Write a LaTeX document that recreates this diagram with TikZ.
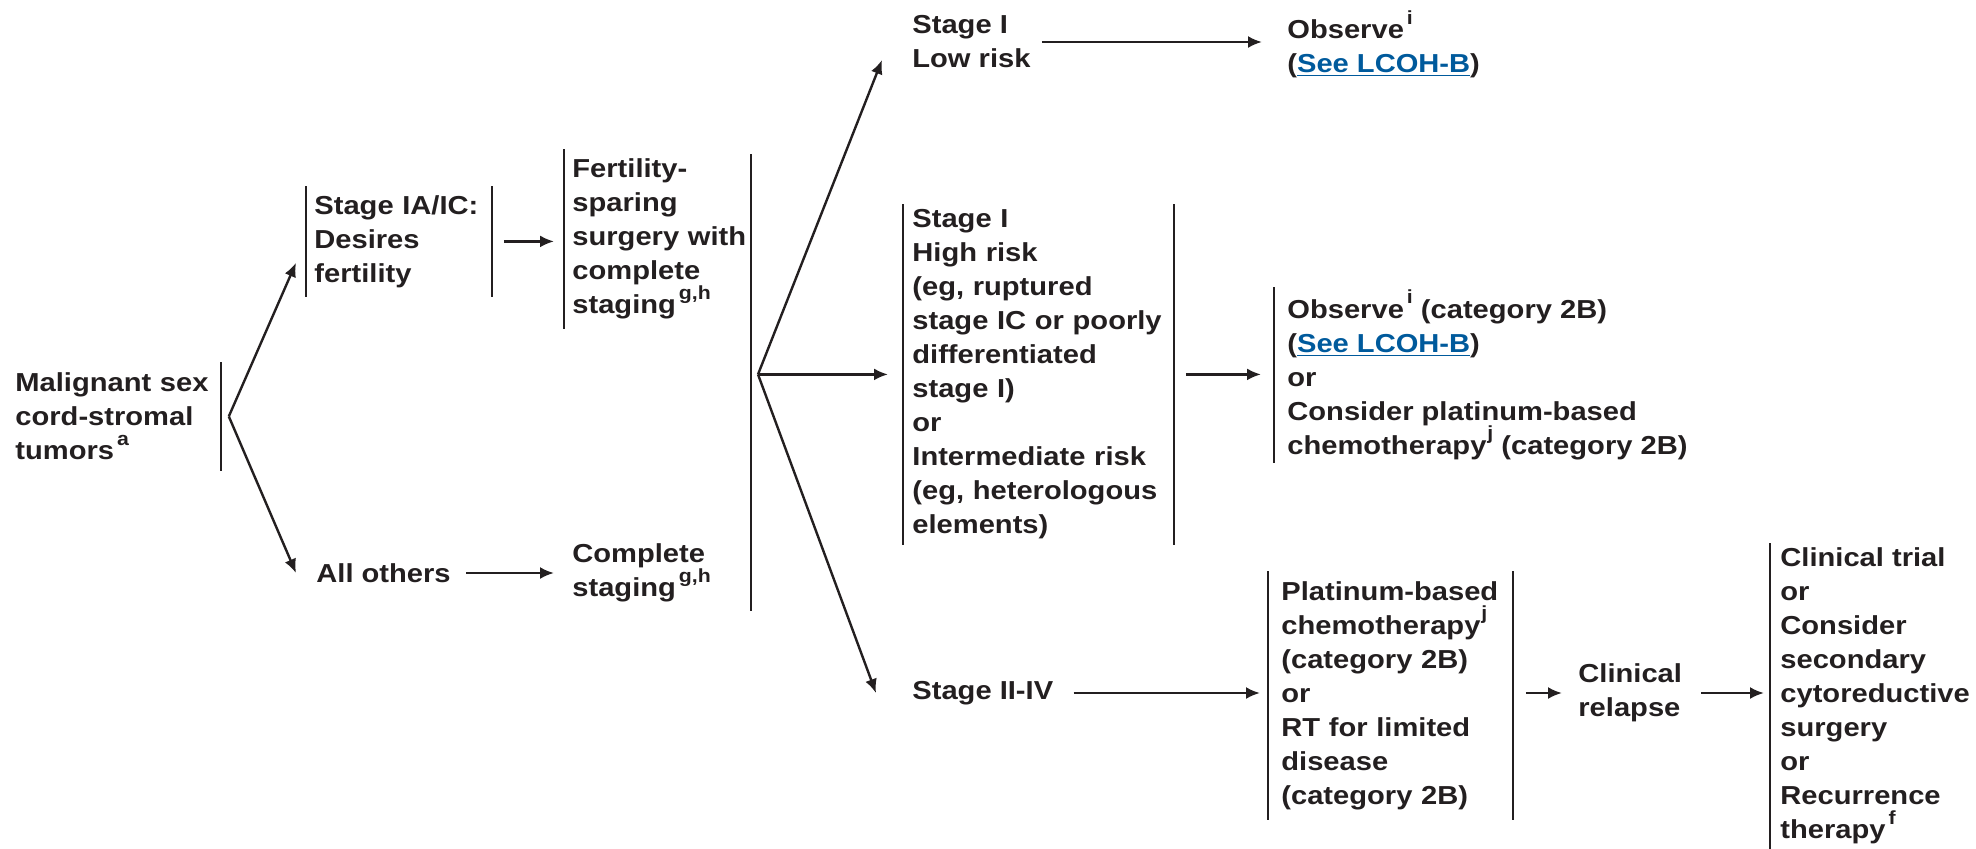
\documentclass[tikz,border=0pt]{standalone}
\usepackage{fontspec}
\usetikzlibrary{arrows.meta,calc}
\newfontfamily\ff[FakeStretch=1.12]{Liberation Sans}
\definecolor{ink}{RGB}{35,31,32}
\definecolor{linkblue}{RGB}{0,90,156}
\newcommand\fn[1]{\kern1.5pt\raisebox{0.55em}{\fontsize{9.5pt}{9.5pt}\selectfont #1}}
\newcommand\fnj[1]{\kern0.5pt\raisebox{0.55em}{\fontsize{9.5pt}{9.5pt}\selectfont #1}}
\newcommand\lnk[1]{\textcolor{linkblue}{\underline{#1}}}
\tikzset{
  txt/.style={font={\ff\bfseries\fontsize{13pt}{17pt}\selectfont}, text=ink, align=left, inner ysep=0pt, inner xsep=4pt},
  arr/.style={-{Latex[length=7pt,width=6pt]}, line width=1.2pt, draw=ink},
  bar/.style={line width=1.1pt, draw=ink},
}
\begin{document}
\begin{tikzpicture}[x=0.5pt,y=-0.5pt]
\useasboundingbox (0,0) rectangle (1976,848);

% column 1
\node[txt, anchor=north west, text width=98.5pt, minimum height=54pt] (mal) at (7,362) {Malignant sex\\cord-stromal\\tumors\fn{a}};
\draw[bar] (mal.north east) -- (mal.south east);
\coordinate (f1) at ($(mal.east)+(8,0)$);

% column 2
\node[txt, anchor=north west, text width=84.5pt, minimum height=55pt] (stIA) at (306,186) {Stage IA/IC:\\Desires\\fertility};
\draw[bar] (stIA.north west) -- (stIA.south west);
\draw[bar] (stIA.north east) -- (stIA.south east);
\node[txt, anchor=west] (all) at (308,573) {All others};

\draw[arr] (f1) -- ($(stIA.south west)+(-10,-34)$);
\draw[arr] (f1) -- ($(all.west)+(-12,0)$);

% column 3
\node[txt, anchor=north west, text width=87pt, minimum height=89.5pt] (fert) at (564,149) {Fertility-\\sparing\\surgery with\\complete\\staging\fn{g,h}};
\draw[bar] (fert.north west) -- (fert.south west);
\node[txt, anchor=west] (comp) at (564,573) {Complete\\staging\fn{g,h}};
\node[inner sep=0pt, minimum height=228pt, minimum width=0pt, anchor=north] (big) at (751,154) {};
\draw[bar] (big.north) -- (big.south);

\draw[arr] ($(stIA.east)+(12,0)$) -- ($(stIA.east -| fert.west)+(-10,0)$);
\draw[arr] ($(all.east)+(7,0)$) -- ($(comp.west)+(-10,0)$);

% column 4
\node[txt, anchor=west] (low) at (904,42) {Stage I\\Low risk};
\node[txt, anchor=north west, inner xsep=4.5pt, text width=126pt, minimum height=170pt] (hi) at (903,204) {Stage I\\High risk\\(eg, ruptured\\stage IC or poorly\\differentiated\\stage I)\\or\\Intermediate risk\\(eg, heterologous\\elements)};
\draw[bar] (hi.north west) -- (hi.south west);
\draw[bar] (hi.north east) -- (hi.south east);
\node[txt, anchor=west] (st2) at (904,693) {Stage II-IV};

\coordinate (f2) at ($(big.center |- hi.west)+(7,0)$);
\draw[arr] (f2) -- ($(low.west)+(-22,18)$);
\draw[arr] (f2) -- ($(hi.west)+(-15,0)$);
\draw[arr] (f2) -- ($(st2.west)+(-28,0)$);

% column 5
\node[txt, anchor=west, inner xsep=6.5pt] (obs1) at (1274,44) {Observe\fn{i}\\(\lnk{See LCOH-B})};
\node[txt, anchor=north west, inner xsep=6.5pt, minimum height=87.5pt] (obs2) at (1274,287) {Observe\fn{i} (category 2B)\\(\lnk{See LCOH-B})\\or\\Consider platinum-based\\chemotherapy\fnj{j} (category 2B)};
\draw[bar] (obs2.north west) -- (obs2.south west);
\node[txt, anchor=north west, inner xsep=6.5pt, text width=109pt, minimum height=124pt] (plat) at (1268,571) {Platinum-based\\chemotherapy\fnj{j}\\(category 2B)\\or\\RT for limited\\disease\\(category 2B)};
\draw[bar] (plat.north west) -- (plat.south west);
\draw[bar] (plat.north east) -- (plat.south east);

\draw[arr] ($(low.east)+(3,0)$) -- ($(low.east -| obs1.west)+(-12,0)$);
\draw[arr] ($(hi.east)+(12,0)$) -- ($(hi.east -| obs2.west)+(-13,0)$);
\draw[arr] ($(st2.east)+(12,0)$) -- ($(st2.east -| plat.west)+(-8,0)$);

% column 6
\node[txt, anchor=west] (rel) at (1570,693) {Clinical\\relapse};
\node[txt, anchor=north west, inner xsep=5pt, minimum height=152.5pt] (last) at (1770,543) {Clinical trial\\or\\Consider\\secondary\\cytoreductive\\surgery\\or\\Recurrence\\therapy\fn{f}};
\draw[bar] (last.north west) -- (last.south west);

\draw[arr] ($(plat.east |- rel.west)+(13,0)$) -- ($(rel.west)+(-8,0)$);
\draw[arr] ($(rel.east)+(11,0)$) -- ($(rel.east -| last.west)+(-6,0)$);
\end{tikzpicture}
\end{document}
